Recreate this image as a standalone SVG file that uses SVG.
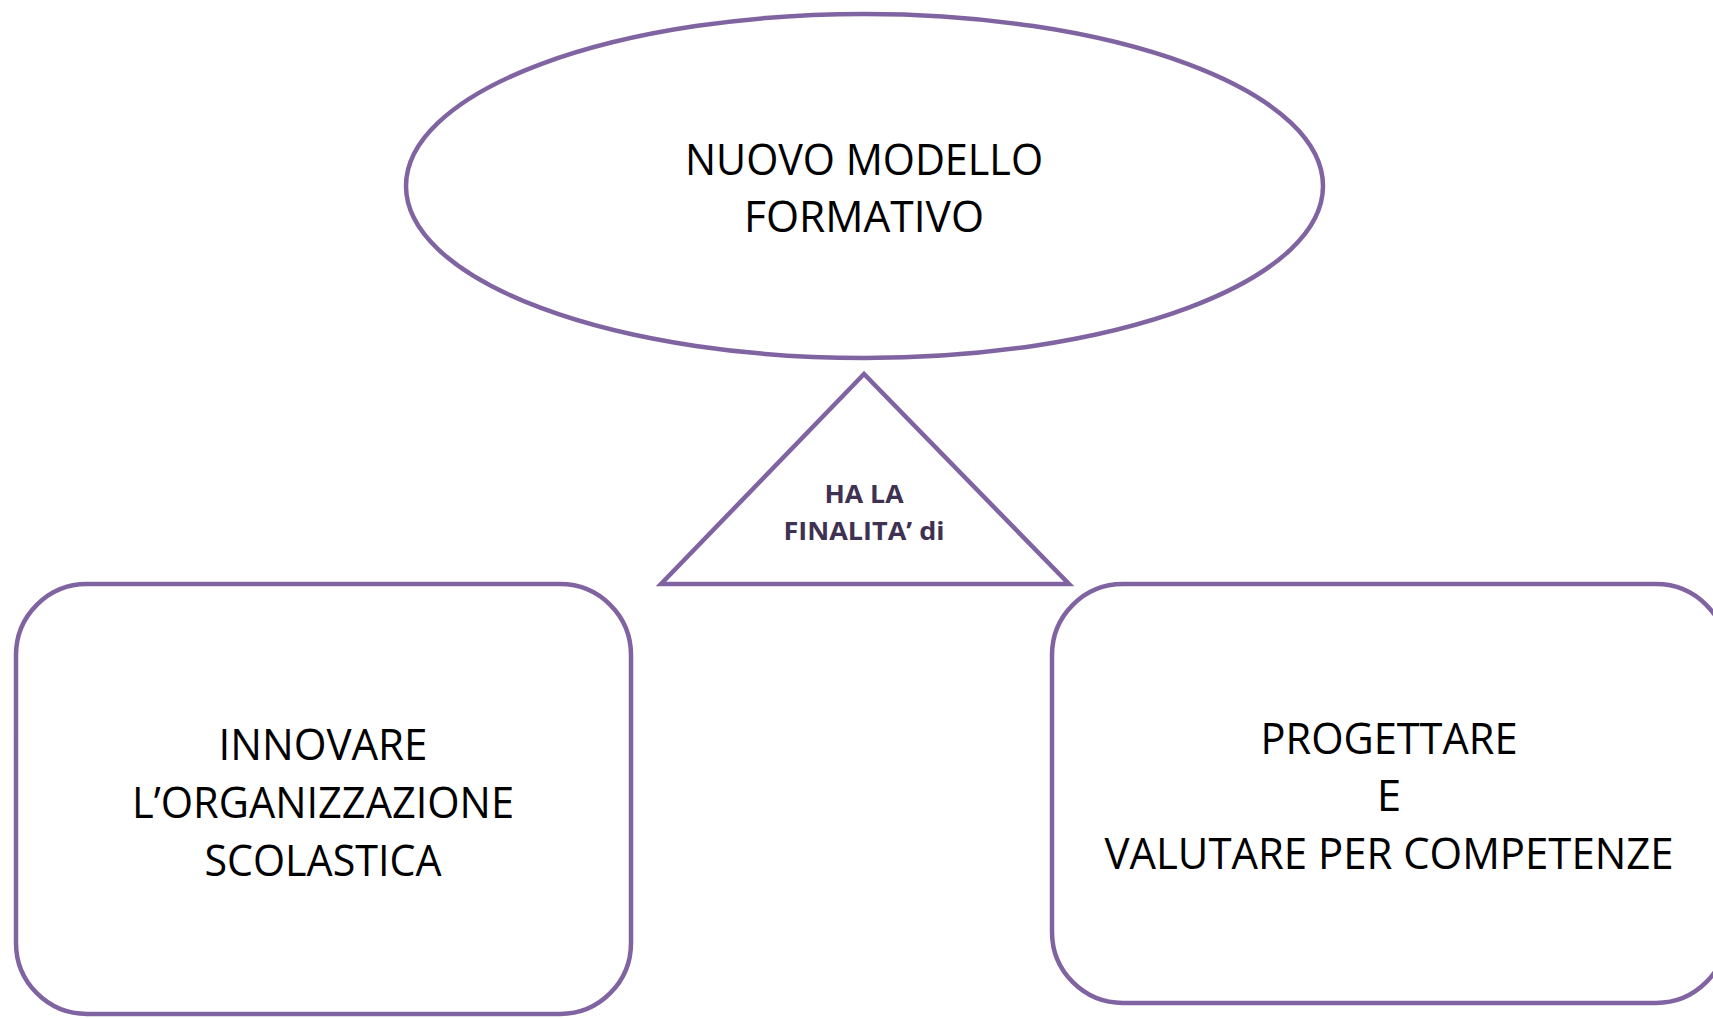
<svg xmlns="http://www.w3.org/2000/svg" width="1713" height="1018" viewBox="0 0 1713 1018">
<style>
.shape{fill:#fff;stroke:#8064a2;stroke-width:4.5}
.lbl{font-family:"Open Sans","Noto Sans","Liberation Sans",sans-serif;font-size:44px;fill:#000;text-anchor:middle}
.tri{font-family:"Open Sans","Noto Sans","Liberation Sans",sans-serif;font-size:25px;font-weight:bold;fill:#3f3151;text-anchor:middle}
</style>
<rect width="1713" height="1018" fill="#fff"/>
<g id="connectors"></g>
<g id="node-modello">
<ellipse class="shape" cx="864.5" cy="186" rx="458.5" ry="172"/>
<text class="lbl" x="864" y="175" textLength="358" lengthAdjust="spacingAndGlyphs">NUOVO MODELLO</text>
<text class="lbl" x="864" y="232" textLength="240" lengthAdjust="spacingAndGlyphs">FORMATIVO</text>
</g>
<g id="node-finalita">
<polygon class="shape" points="864,374 661,584 1069,584"/>
<text class="tri" x="864" y="503" textLength="79" lengthAdjust="spacingAndGlyphs">HA LA</text>
<text class="tri" x="864" y="540" textLength="161" lengthAdjust="spacingAndGlyphs">FINALITA’ di</text>
</g>
<g id="node-innovare">
<rect class="shape" x="16" y="584" width="615" height="430" rx="71" ry="71"/>
<text class="lbl" x="323" y="760" textLength="209" lengthAdjust="spacingAndGlyphs">INNOVARE</text>
<text class="lbl" x="323" y="818" textLength="382" lengthAdjust="spacingAndGlyphs">L’ORGANIZZAZIONE</text>
<text class="lbl" x="323" y="876" textLength="237" lengthAdjust="spacingAndGlyphs">SCOLASTICA</text>
</g>
<g id="node-progettare">
<rect class="shape" x="1052" y="584" width="675" height="419" rx="71" ry="71"/>
<text class="lbl" x="1389" y="754" textLength="257" lengthAdjust="spacingAndGlyphs">PROGETTARE</text>
<text class="lbl" x="1389" y="811">E</text>
<text class="lbl" x="1389" y="869" textLength="569" lengthAdjust="spacingAndGlyphs">VALUTARE PER COMPETENZE</text>
</g>
</svg>
